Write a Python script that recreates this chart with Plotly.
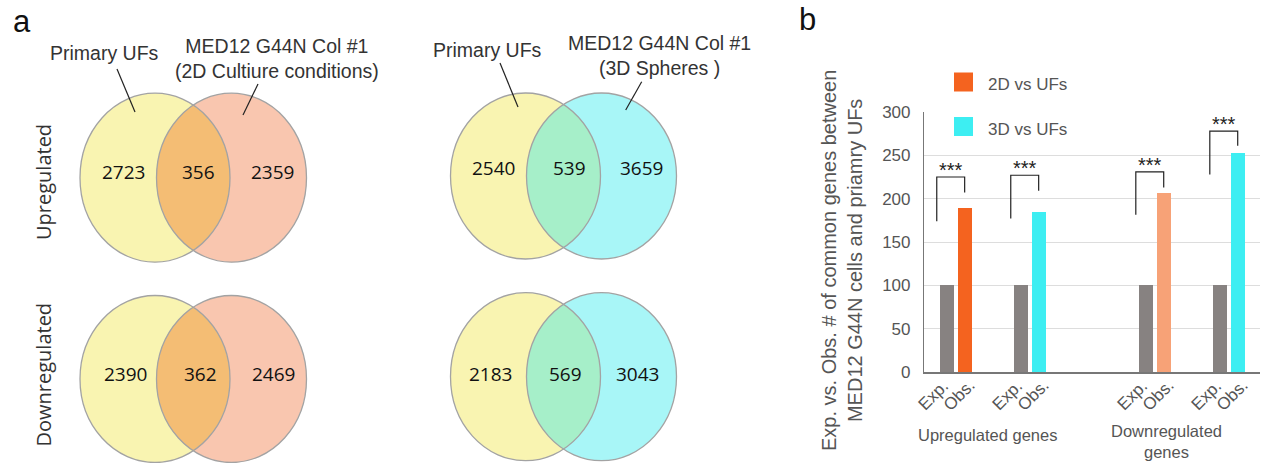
import numpy as np
import plotly.graph_objects as go

# ---------------- data ----------------
row_labels = ["Upregulated", "Downregulated"]
set_left_label = "Primary UFs"
set_right_labels = ["MED12 G44N Col #1<br>(2D Cultiure conditions)",
                    "MED12 G44N Col #1<br>(3D Spheres )"]
venn_up_2d = [2723, 356, 2359]
venn_down_2d = [2390, 362, 2469]
venn_up_3d = [2540, 539, 3659]
venn_down_3d = [2183, 569, 3043]

bar_groups = ["Upregulated genes", "Downregulated<br>genes"]
exp_label = "Exp."
obs_label = "Obs."
exp_values = [100, 100, 100, 100]
obs_values = [189, 185, 206, 253]
significance = ["***", "***", "***", "***"]
bracket_left_y = [174, 177, 181.5, 228]
bracket_top_y = [225, 227, 231, 278]
bracket_right_y = [207, 209, 213, 261]
legend_names = ["2D vs UFs", "3D vs UFs"]
y_ticks = [0, 50, 100, 150, 200, 250, 300]

# ---------------- styling ----------------
W, H = 1262, 463
C_YEL = "#F9F4B1"
C_PINK = "#F9C6AF"
C_ORLENS = "#F4BD74"
C_CYAN = "#A8F6F7"
C_GRLENS = "#A6EFC9"
C_OUT = "#A3A3A3"
BAR_GRAY = "#878281"
BAR_OR = "#F4631F"
BAR_CY = "#3DEEF2"
BAR_SAL = "#F7A277"
obs_colors = [BAR_OR, BAR_CY, BAR_SAL, BAR_CY]
SANS = "Liberation Sans, Arial, sans-serif"
NUMF = "Open Sans, Noto Sans, sans-serif"


def px(x):
    return x / W


def py(y):
    return 1 - y / H


fig = go.Figure()

# ---------------- bar chart ----------------
exp_x = [0, 4.35, 11.7, 16.05]
obs_x = [e + 1.04 for e in exp_x]
bw = 0.82

fig.add_trace(go.Bar(x=exp_x, y=exp_values, width=bw, marker_color=BAR_GRAY,
                     marker_line_width=0, showlegend=False))
fig.add_trace(go.Bar(x=obs_x, y=obs_values, width=bw, marker_color=obs_colors,
                     marker_line_width=0, showlegend=False))

ann = []
for i in range(4):
    lx = exp_x[i] - 0.6
    rx = obs_x[i]
    fig.add_trace(go.Scatter(
        x=[lx, lx, rx, rx],
        y=[bracket_left_y[i], bracket_top_y[i], bracket_top_y[i], bracket_right_y[i]],
        mode="lines", line=dict(color="#222222", width=1.2),
        showlegend=False, hoverinfo="skip"))
    ann.append(dict(x=(lx + rx) / 2, y=bracket_top_y[i], xref="x", yref="y",
                    text=significance[i], showarrow=False, yanchor="bottom",
                    yshift=-6, font=dict(family=SANS, size=20, color="#222222")))
    # rotated category labels under each bar pair
    for xx, lab in [(exp_x[i] - 0.82, exp_label), (obs_x[i] - 0.35, obs_label)]:
        ann.append(dict(x=xx, y=py(395), xref="x", yref="paper", text=lab,
                        showarrow=False, textangle=-45, xanchor="center",
                        yanchor="middle",
                        font=dict(family=SANS, size=17, color="#555555")))

# ---------------- Venn diagrams (paper coordinates, pixel based) ----------------
def ellipse(cx, cy, rx, ry, fill, line_color=None, width=0):
    return dict(type="circle", xref="paper", yref="paper",
                x0=px(cx - rx), x1=px(cx + rx), y0=py(cy + ry), y1=py(cy - ry),
                fillcolor=fill, layer="above",
                line=dict(color=line_color, width=width) if line_color else dict(width=0))


def lens_path(cx1, cx2, cy, rx, ry, n=60):
    xm = (cx1 + cx2) / 2
    th0 = np.arccos((xm - cx1) / rx)
    t1 = np.linspace(-th0, th0, n)
    t2 = np.linspace(np.pi - th0, np.pi + th0, n)
    xs = np.concatenate([cx1 + rx * np.cos(t1), cx2 + rx * np.cos(t2)])
    ys = np.concatenate([cy + ry * np.sin(t1), cy + ry * np.sin(t2)])
    pts = [f"{px(x):.5f},{py(y):.5f}" for x, y in zip(xs, ys)]
    return "M " + " L ".join(pts) + " Z"


def a2(x, y, text, size, color="#333333", family=SANS, angle=0,
       xanchor="center", yanchor="middle"):
    ann.append(dict(x=px(x), y=py(y), xref="paper", yref="paper", text=text,
                    showarrow=False, textangle=angle, xanchor=xanchor, yanchor=yanchor,
                    font=dict(family=family, size=size, color=color)))


venns = [
    # cx1, cx2, cy, rx, ry, right color, lens color, values, number x offsets, number y
    (155, 231.5, 177.7, 75, 84.5, C_PINK, C_ORLENS, venn_up_2d, (-32, 5, 40.5), 172),
    (155, 231.5, 379, 75, 83.5, C_PINK, C_ORLENS, venn_down_2d, (-30, 7, 41.5), 374),
    (525.5, 601.5, 176, 75, 83, C_CYAN, C_GRLENS, venn_up_3d, (-32.5, 5.5, 40), 168),
    (525.5, 601.5, 376.7, 75, 84, C_CYAN, C_GRLENS, venn_down_3d, (-35.5, 2, 36.5), 374),
]

shapes = []
for cx1, cx2, cy, rx, ry, rc, lc, vals, offs, ny in venns:
    shapes.append(ellipse(cx1, cy, rx, ry, C_YEL))
    shapes.append(ellipse(cx2, cy, rx, ry, rc))
    shapes.append(dict(type="path", xref="paper", yref="paper",
                       path=lens_path(cx1, cx2, cy, rx, ry),
                       fillcolor=lc, line=dict(width=0), layer="above"))
    shapes.append(ellipse(cx1, cy, rx, ry, "rgba(0,0,0,0)", C_OUT, 1.3))
    shapes.append(ellipse(cx2, cy, rx, ry, "rgba(0,0,0,0)", C_OUT, 1.3))
    xm = (cx1 + cx2) / 2
    for xx, v in zip([cx1 + offs[0], xm + offs[1], cx2 + offs[2]], vals):
        a2(xx, ny, str(v), 19, "#111111", NUMF)

# leader lines
for x0, y0, x1, y1 in [(117, 69, 135, 112), (258, 84, 243, 115),
                       (500, 63, 518, 107), (641.7, 81.7, 625.7, 110)]:
    shapes.append(dict(type="line", xref="paper", yref="paper",
                       x0=px(x0), y0=py(y0), x1=px(x1), y1=py(y1),
                       line=dict(color="#222222", width=1.2), layer="above"))

a2(22, 21, "a", 31, "#111111")
a2(807, 19, "b", 31, "#111111")
a2(104, 53, set_left_label, 19.5)
a2(277, 59, set_right_labels[0], 19.5)
a2(487, 50, set_left_label, 19.5)
a2(659, 55, set_right_labels[1], 19.5)
a2(43, 182, row_labels[0], 20, "#333333", NUMF, -90)
a2(43, 374.5, row_labels[1], 20, "#333333", NUMF, -90)

# bar chart legend
legend_cols = [BAR_OR, BAR_CY]
for j, (name, col) in enumerate(zip(legend_names, legend_cols)):
    yc = 82 + j * 44.5
    shapes.append(dict(type="rect", xref="paper", yref="paper", x0=px(954), x1=px(973),
                       y0=py(yc + 9.5), y1=py(yc - 9.5), fillcolor=col,
                       line=dict(width=0), layer="above"))
    a2(986, yc + 3, name, 17, "#555555", xanchor="left")

# y-axis title and group labels
a2(842, 261, "Exp. vs. Obs. # of common genes between<br>MED12 G44N cells and priamry UFs",
   20, "#555555", angle=-90)
a2(987, 435, bar_groups[0], 16.5, "#555555")
a2(1166, 441, bar_groups[1], 16.5, "#555555")

fig.update_layout(
    width=W, height=H, autosize=False,
    margin=dict(l=0, r=0, t=0, b=0, pad=0, autoexpand=False),
    paper_bgcolor="white", plot_bgcolor="white",
    bargap=0,
    shapes=shapes, annotations=ann,
    xaxis=dict(domain=[924 / W, 1260 / W], range=[-1.35, 18.4],
               showticklabels=False,
               showgrid=False, zeroline=False, showline=True, linecolor="#777777",
               linewidth=1.5, ticks="", fixedrange=True, automargin=False),
    yaxis=dict(domain=[1 - 372 / H, 1 - 112 / H], range=[0, 300],
               tickvals=y_ticks, tickfont=dict(family=SANS, size=17, color="#555555"),
               showgrid=True, gridcolor="#DDDDDD", gridwidth=1, zeroline=False,
               showline=True, linecolor="#777777", linewidth=1.2, ticks="",
               ticklabelstandoff=9, fixedrange=True, automargin=False),
)

fig.write_html("out.html",
               config={"displayModeBar": False},
               post_script="document.body.style.margin='0px';"
                           "document.body.style.overflow='hidden';")
